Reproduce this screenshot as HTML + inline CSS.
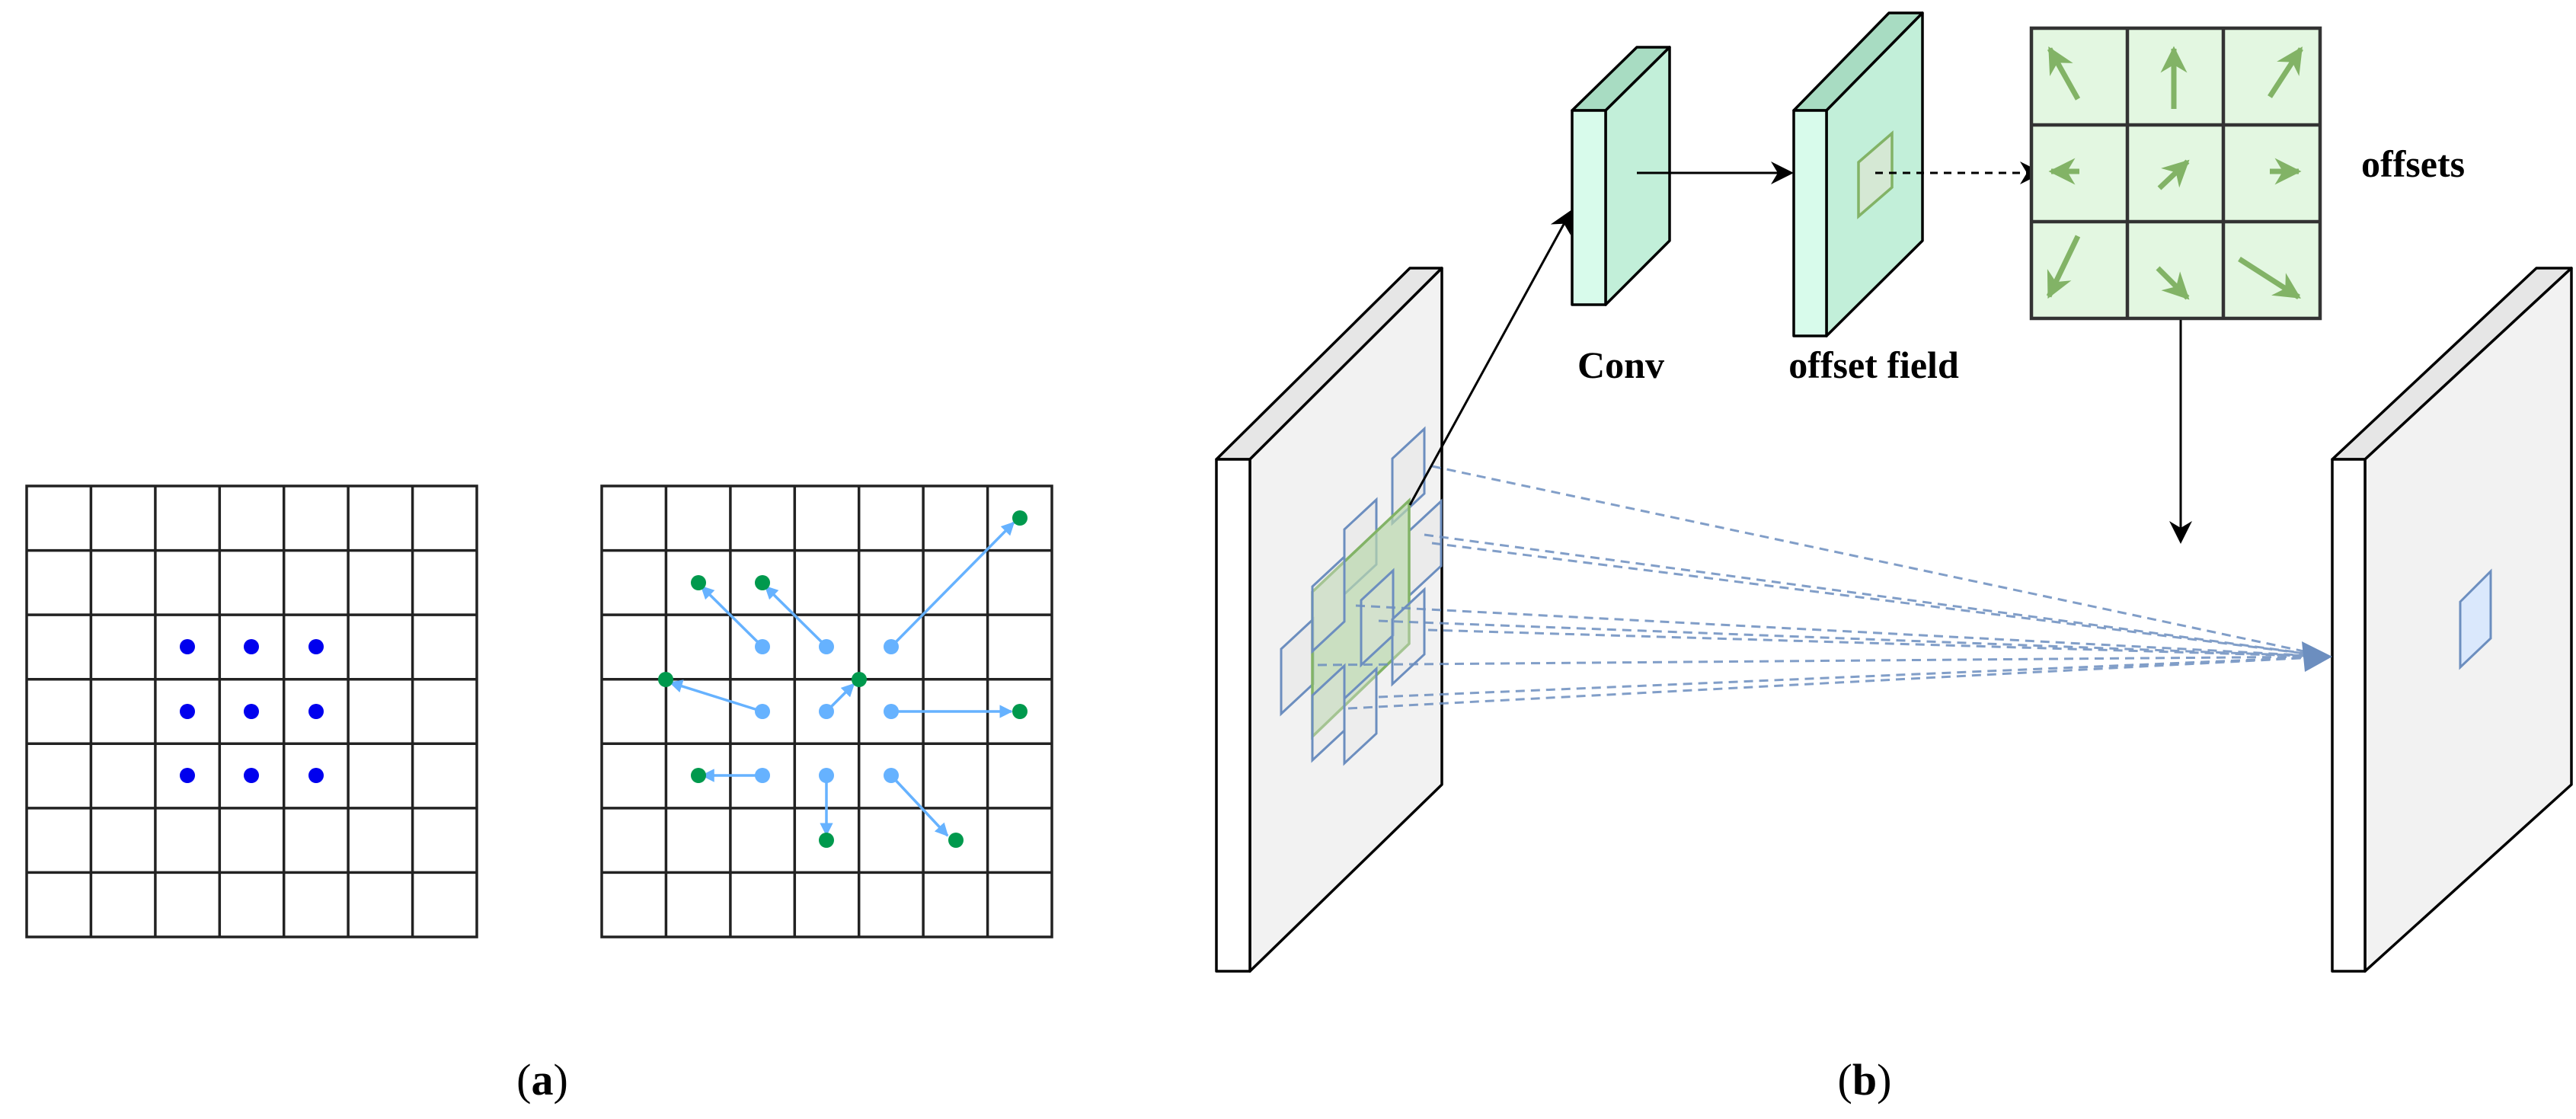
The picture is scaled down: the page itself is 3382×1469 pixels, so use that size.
<!DOCTYPE html>
<html><head><meta charset="utf-8"><style>
html,body{margin:0;padding:0;background:#fff;}
svg{display:block;}
text{font-family:"Liberation Serif",serif;}
</style></head><body>
<svg width="3382" height="1469" viewBox="0 0 3382 1469" xmlns="http://www.w3.org/2000/svg">
<defs>
<marker id="ak" viewBox="0 0 10 10" refX="9" refY="5" markerWidth="30" markerHeight="30" markerUnits="userSpaceOnUse" orient="auto">
<path d="M0,0 L10,5 L0,10 L3,5 z" fill="#000"/></marker>
<marker id="ag" viewBox="0 0 10 10" refX="9" refY="5" markerWidth="5" markerHeight="5" orient="auto">
<path d="M0,0 L10,5 L0,10 L3,5 z" fill="#82b366"/></marker>
<marker id="al" viewBox="0 0 10 10" refX="9" refY="5" markerWidth="5" markerHeight="5" orient="auto">
<path d="M0,0 L10,5 L0,10 z" fill="#66b2ff"/></marker>
</defs>

<!-- (a) left grid -->
<g stroke="#222" stroke-width="3.5" fill="none">
<rect x="35" y="638" width="591" height="592" fill="#fff"/>
<path d="M119.4,638V1230M203.9,638V1230M288.3,638V1230M372.7,638V1230M457.1,638V1230M541.6,638V1230
M35,722.6H626M35,807.1H626M35,891.7H626M35,976.3H626M35,1060.9H626M35,1145.4H626"/>
</g>
<g fill="#0000ee">
<circle cx="246" cy="849" r="10"/><circle cx="330" cy="849" r="10"/><circle cx="415" cy="849" r="10"/>
<circle cx="246" cy="934" r="10"/><circle cx="330" cy="934" r="10"/><circle cx="415" cy="934" r="10"/>
<circle cx="246" cy="1018" r="10"/><circle cx="330" cy="1018" r="10"/><circle cx="415" cy="1018" r="10"/>
</g>

<!-- (a) right grid -->
<g transform="translate(790,638)">
<g stroke="#222" stroke-width="3.5" fill="none">
<rect x="0" y="0" width="591" height="592" fill="#fff"/>
<path d="M84.4,0V592M168.9,0V592M253.3,0V592M337.7,0V592M422.1,0V592M506.6,0V592
M0,84.6H591M0,169.1H591M0,253.7H591M0,338.3H591M0,422.9H591M0,507.4H591"/>
</g>
<g stroke="#66b2ff" stroke-width="3.5" fill="none" marker-end="url(#al)">
<line x1="211" y1="211" x2="131" y2="132"/>
<line x1="295" y1="211" x2="215" y2="132"/>
<line x1="380" y1="211" x2="541" y2="48"/>
<line x1="211" y1="296" x2="90" y2="258"/>
<line x1="295" y1="296" x2="331" y2="260"/>
<line x1="380" y1="296" x2="538" y2="296"/>
<line x1="211" y1="380" x2="132" y2="380"/>
<line x1="295" y1="380" x2="295" y2="458"/>
<line x1="380" y1="380" x2="454" y2="459"/>
</g>
<g fill="#66b2ff">
<circle cx="211" cy="211" r="10"/><circle cx="295" cy="211" r="10"/><circle cx="380" cy="211" r="10"/>
<circle cx="211" cy="296" r="10"/><circle cx="295" cy="296" r="10"/><circle cx="380" cy="296" r="10"/>
<circle cx="211" cy="380" r="10"/><circle cx="295" cy="380" r="10"/><circle cx="380" cy="380" r="10"/>
</g>
<g fill="#00994d">
<circle cx="549" cy="42" r="10"/><circle cx="127" cy="127" r="10"/><circle cx="211" cy="127" r="10"/>
<circle cx="84" cy="254" r="10"/><circle cx="338" cy="254" r="10"/><circle cx="549" cy="296" r="10"/>
<circle cx="127" cy="380" r="10"/><circle cx="295" cy="465" r="10"/><circle cx="465" cy="465" r="10"/>
</g>
</g>

<!-- (b) left slab -->
<g stroke="#000" stroke-width="3.5" stroke-linejoin="round">
<polygon points="1597,603 1851,352 1893,352 1641,603" fill="#e6e6e6"/>
<polygon points="1641,603 1893,352 1893,1030 1641,1275" fill="#f2f2f2"/>
<rect x="1597" y="603" width="44" height="672" fill="#fff"/>
</g>
<!-- right slab -->
<g stroke="#000" stroke-width="3.5" stroke-linejoin="round">
<polygon points="3062,603 3330,352 3376,352 3105,603" fill="#e6e6e6"/>
<polygon points="3105,603 3376,352 3376,1030 3105,1275" fill="#f2f2f2"/>
<rect x="3062" y="603" width="43" height="672" fill="#fff"/>
</g>
<polygon points="3230,790 3270,750 3270,838 3230,876" fill="#dae8fc" stroke="#6c8ebf" stroke-width="3"/>

<!-- kernel patches -->
<g stroke="#6c8ebf" stroke-width="3" fill="#e6e6e6" fill-opacity="0.6">
<polygon points="1828,602 1870,563 1870,648 1828,687"/>
<polygon points="1765,695 1807,656 1807,741 1765,780"/>
<polygon points="1850,697 1892,658 1892,743 1850,782"/>
<polygon points="1682,852 1724,813 1724,898 1682,937"/>
</g>
<polygon points="1723,777 1850,657 1850,845 1723,967" fill="#b9d7ad" fill-opacity="0.7" stroke="#82b366" stroke-width="3.5"/>
<g stroke="#6c8ebf" stroke-width="3" fill="#e6e6e6" fill-opacity="0.35">
<polygon points="1723,770 1765,731 1765,816 1723,855"/>
<polygon points="1787,788 1829,749 1829,834 1787,873"/>
<polygon points="1723,913 1765,874 1765,959 1723,998"/>
<polygon points="1828,813 1870,774 1870,859 1828,898"/>
<polygon points="1765,917 1807,878 1807,963 1765,1002"/>
</g>

<!-- dashed blue lines -->
<g stroke="#6c8ebf" stroke-width="3" stroke-dasharray="12,8" fill="none" opacity="0.85">
<line x1="1880" y1="612" x2="3058" y2="862"/>
<line x1="1870" y1="702" x2="3058" y2="862"/>
<line x1="1880" y1="713" x2="3058" y2="862"/>
<line x1="1780" y1="795" x2="3058" y2="862"/>
<line x1="1810" y1="815" x2="3058" y2="862"/>
<line x1="1875" y1="827" x2="3058" y2="862"/>
<line x1="1730" y1="873" x2="3058" y2="862"/>
<line x1="1810" y1="915" x2="3058" y2="862"/>
<line x1="1770" y1="930" x2="3058" y2="862"/>
</g>
<polygon points="3062,862 3022,842 3026,882" fill="#6c8ebf"/>

<!-- conv block -->
<g stroke="#000" stroke-width="3.5" stroke-linejoin="round">
<polygon points="2064,145 2149,62 2192,62 2108,145" fill="#a8dcc2"/>
<polygon points="2108,145 2192,62 2192,316 2108,400" fill="#c2efd9"/>
<rect x="2064" y="145" width="44" height="255" fill="#d8fbeb"/>
</g>
<!-- offset field block -->
<g stroke="#000" stroke-width="3.5" stroke-linejoin="round">
<polygon points="2355,145 2480,17 2524,17 2398,145" fill="#a8dcc2"/>
<polygon points="2398,145 2524,17 2524,316 2398,441" fill="#c2efd9"/>
<rect x="2355" y="145" width="43" height="296" fill="#d8fbeb"/>
</g>
<polygon points="2440,213 2484,175 2484,246 2440,284" fill="#d5e8d4" stroke="#82b366" stroke-width="3.5"/>

<!-- arrows -->
<line x1="2149" y1="227" x2="2352" y2="227" stroke="#000" stroke-width="3" marker-end="url(#ak)"/>
<line x1="2462" y1="227" x2="2679" y2="227" stroke="#000" stroke-width="3" stroke-dasharray="10,8" marker-end="url(#ak)"/>
<line x1="1851" y1="663" x2="2062" y2="278" stroke="#000" stroke-width="3" marker-end="url(#ak)"/>
<line x1="2863" y1="419" x2="2863" y2="711" stroke="#000" stroke-width="3" marker-end="url(#ak)"/>

<!-- offsets grid -->
<g transform="translate(2667,37)">
<rect x="0" y="0" width="379" height="381" fill="#e3f7e1" stroke="#333" stroke-width="4.5"/>
<path d="M126,0V381M252,0V381M0,127H379M0,254H379" stroke="#333" stroke-width="4.5"/>
<g stroke="#82b366" stroke-width="7" fill="none" marker-end="url(#ag)">
<line x1="61" y1="93" x2="24" y2="27"/>
<line x1="187" y1="106" x2="187" y2="27"/>
<line x1="313" y1="90" x2="354" y2="27"/>
<line x1="63" y1="188" x2="26" y2="188"/>
<line x1="168" y1="210" x2="205" y2="175"/>
<line x1="313" y1="188" x2="351" y2="188"/>
<line x1="61" y1="273" x2="23" y2="352"/>
<line x1="166" y1="315" x2="205" y2="354"/>
<line x1="273" y1="303" x2="351" y2="353"/>
</g>
</g>

<!-- labels -->
<text x="3100" y="232" font-size="50" font-weight="bold">offsets</text>
<text x="2128" y="496" font-size="50" font-weight="bold" text-anchor="middle">Conv</text>
<text x="2460" y="496" font-size="50" font-weight="bold" text-anchor="middle">offset field</text>
<text x="712" y="1437" font-size="58" text-anchor="middle">(<tspan font-weight="bold">a</tspan>)</text>
<text x="2448" y="1437" font-size="58" text-anchor="middle">(<tspan font-weight="bold">b</tspan>)</text>
</svg>
</body></html>
